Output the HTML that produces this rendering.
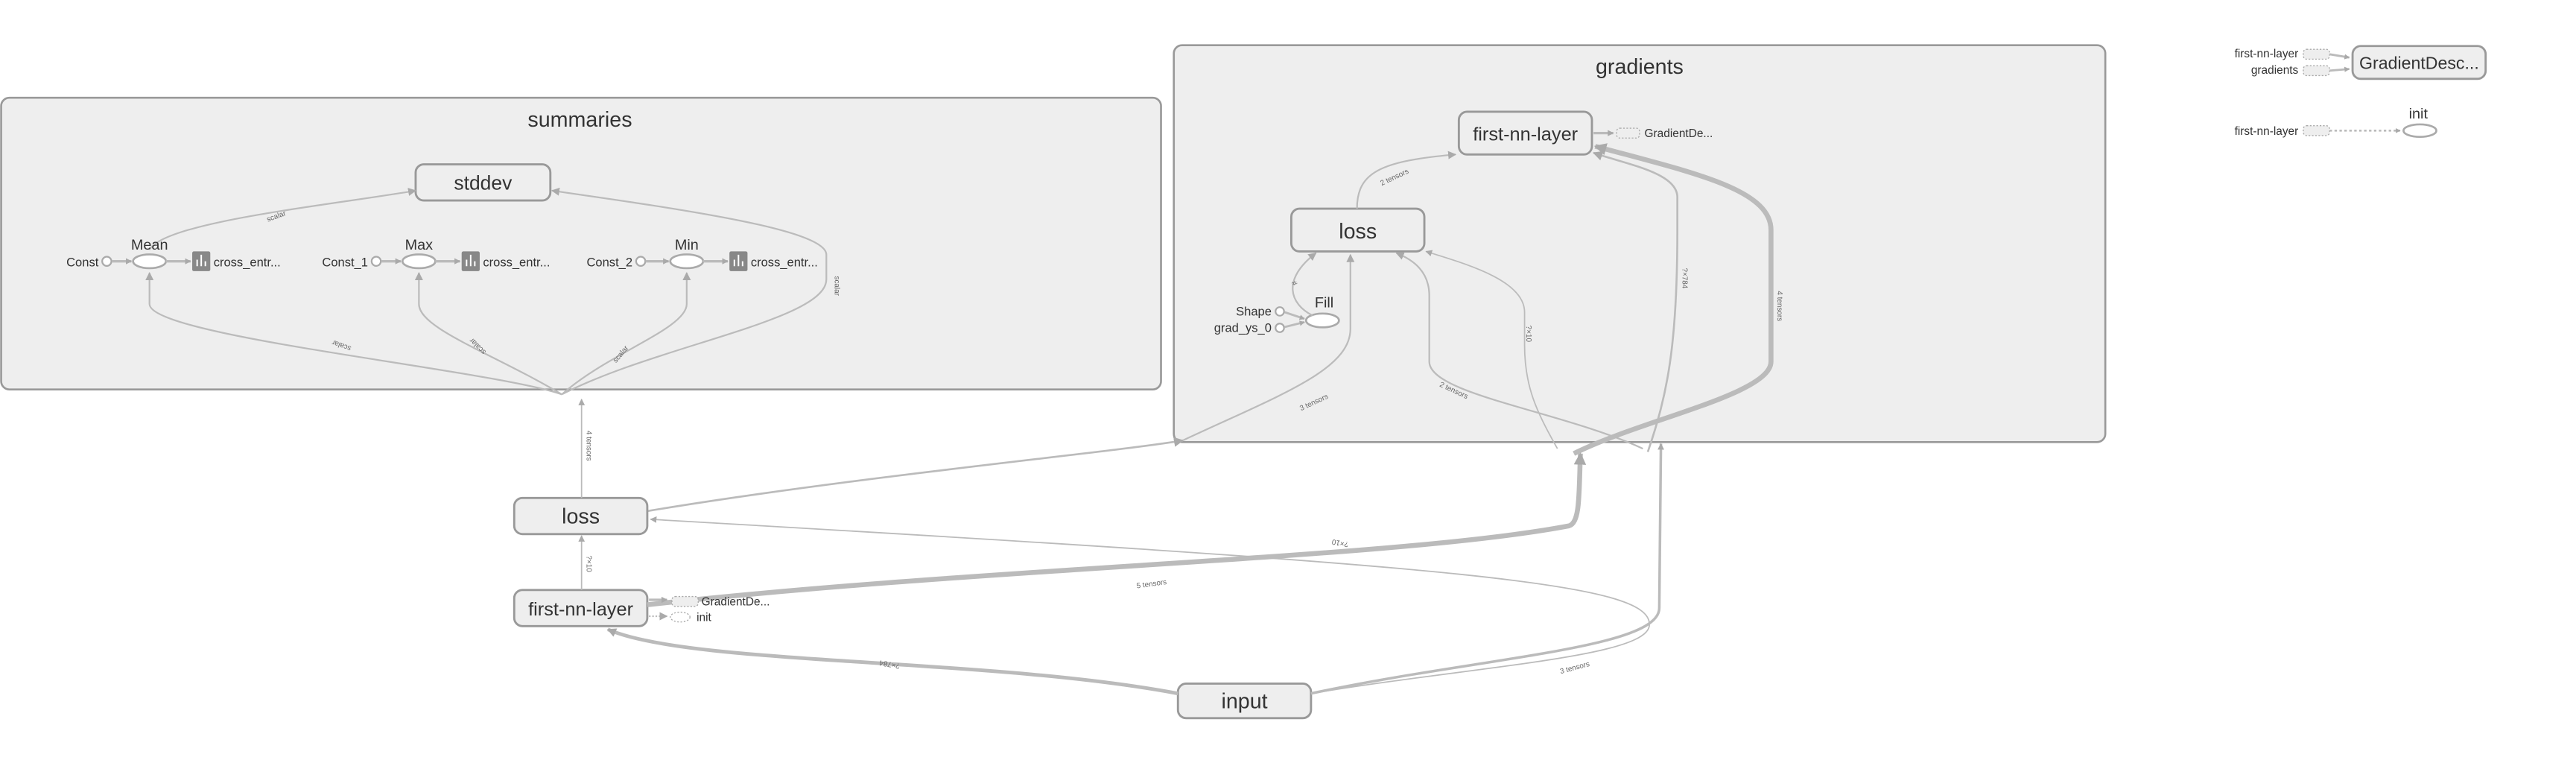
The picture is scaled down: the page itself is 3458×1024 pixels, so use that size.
<!DOCTYPE html>
<html><head><meta charset="utf-8"><style>
html,body{margin:0;padding:0;background:#fff;}
svg{display:block;}
text{font-family:"Liberation Sans",sans-serif;fill:#333;}
.e{fill:none;stroke:#bbb;}
.lbl{font-size:4.5px;fill:#666;}
.node{fill:#eee;stroke:#999;stroke-width:1.3;}
</style></head><body>
<svg width="3458" height="1024" viewBox="0 0 1568 464.3" preserveAspectRatio="none" xmlns="http://www.w3.org/2000/svg">
<defs>
<marker id="a" viewBox="0 0 10 10" refX="9" refY="5" markerWidth="5" markerHeight="5" orient="auto"><path d="M0,0 L10,5 L0,10 z" fill="#aaa"/></marker>
<marker id="as" viewBox="0 0 10 10" refX="9" refY="5" markerWidth="2.5" markerHeight="2.5" orient="auto"><path d="M0,0 L10,5 L0,10 z" fill="#aaa"/></marker>
</defs>
<!-- summaries -->
<rect x="0.7" y="59.5" width="706" height="177.5" rx="5" fill="#eee" stroke="#999" stroke-width="1.2"/>
<text x="353" y="77" font-size="13" text-anchor="middle">summaries</text>
<rect x="253" y="100" width="82" height="22" rx="5" class="node"/>
<text x="294" y="115.5" font-size="12" text-anchor="middle">stddev</text>
<path class="e" style="stroke-width:1" d="M342,240 C300,225 91,205 91,185 L91,166" marker-end="url(#a)"/>
<path class="e" style="stroke-width:1" d="M342,240 C300,215 255,200 255,185 L255,166" marker-end="url(#a)"/>
<path class="e" style="stroke-width:1" d="M342,240 C370,215 418,200 418,185 L418,166" marker-end="url(#a)"/>
<path class="e" style="stroke-width:1" d="M342,240 C400,210 503,195 503,170 L503,155 C503,140 420,128 336,116" marker-end="url(#a)"/>
<path class="e" style="stroke-width:1" d="M91,152 C100,135 200,125 253,116" marker-end="url(#a)"/>
<text class="lbl" transform="translate(163,135) rotate(-20)">scalar</text>
<text class="lbl" transform="translate(508,168) rotate(90)">scalar</text>
<text class="lbl" transform="translate(214,211) rotate(200)">scalar</text>
<text class="lbl" transform="translate(296,214) rotate(225)">scalar</text>
<text class="lbl" transform="translate(375,221) rotate(-50)">scalar</text>
<g>
<text x="60" y="162" font-size="7.5" text-anchor="end">Const</text>
<circle cx="65" cy="159" r="2.8" fill="#fff" stroke="#aaa"/>
<path class="e" style="stroke-width:1.5" d="M68,159 L80,159" marker-end="url(#as)"/>
<ellipse cx="91" cy="159" rx="10" ry="4.2" fill="#fff" stroke="#aaa" stroke-width="1.2"/>
<text x="91" y="152" font-size="9" text-anchor="middle">Mean</text>
<path class="e" style="stroke-width:1.5" d="M101,159 L116,159" marker-end="url(#as)"/>
<rect x="117" y="153" width="11" height="12" rx="1" fill="#888"/>
<path d="M120,162V158M122.5,162V155M125,162V159" stroke="#fff" stroke-width="0.9"/>
<text x="130" y="162" font-size="7.5">cross_entr...</text>
</g>
<g>
<text x="224" y="162" font-size="7.5" text-anchor="end">Const_1</text>
<circle cx="229" cy="159" r="2.8" fill="#fff" stroke="#aaa"/>
<path class="e" style="stroke-width:1.5" d="M232,159 L244,159" marker-end="url(#as)"/>
<ellipse cx="255" cy="159" rx="10" ry="4.2" fill="#fff" stroke="#aaa" stroke-width="1.2"/>
<text x="255" y="152" font-size="9" text-anchor="middle">Max</text>
<path class="e" style="stroke-width:1.5" d="M265,159 L280,159" marker-end="url(#as)"/>
<rect x="281" y="153" width="11" height="12" rx="1" fill="#888"/>
<path d="M284,162V158M286.5,162V155M289,162V159" stroke="#fff" stroke-width="0.9"/>
<text x="294" y="162" font-size="7.5">cross_entr...</text>
</g>
<g>
<text x="385" y="162" font-size="7.5" text-anchor="end">Const_2</text>
<circle cx="390" cy="159" r="2.8" fill="#fff" stroke="#aaa"/>
<path class="e" style="stroke-width:1.5" d="M393,159 L407,159" marker-end="url(#as)"/>
<ellipse cx="418" cy="159" rx="10" ry="4.2" fill="#fff" stroke="#aaa" stroke-width="1.2"/>
<text x="418" y="152" font-size="9" text-anchor="middle">Min</text>
<path class="e" style="stroke-width:1.5" d="M428,159 L443,159" marker-end="url(#as)"/>
<rect x="444" y="153" width="11" height="12" rx="1" fill="#888"/>
<path d="M447,162V158M449.5,162V155M452,162V159" stroke="#fff" stroke-width="0.9"/>
<text x="457" y="162" font-size="7.5">cross_entr...</text>
</g>

<!-- gradients -->
<rect x="714.5" y="27.5" width="567" height="241.5" rx="5" fill="#eee" stroke="#999" stroke-width="1.2"/>
<text x="998" y="45" font-size="13" text-anchor="middle">gradients</text>
<rect x="888" y="68" width="81" height="26" rx="5" class="node"/>
<text x="928.5" y="85.5" font-size="11.5" text-anchor="middle">first-nn-layer</text>
<path class="e" style="stroke-width:1.5" d="M970,81 L982,81" marker-end="url(#as)"/>
<rect x="984" y="78" width="14" height="6" rx="2" fill="#eee" stroke="#aaa" stroke-width="0.6" stroke-dasharray="1,1"/>
<text x="1001" y="83.5" font-size="7">GradientDe...</text>
<rect x="786" y="127" width="81" height="26" rx="5" class="node"/>
<text x="826.5" y="145" font-size="13" text-anchor="middle">loss</text>
<path class="e" style="stroke-width:1" d="M826,127 C826,105 840,98 886,94" marker-end="url(#a)"/>
<text class="lbl" transform="translate(841,113) rotate(-25)">2 tensors</text>
<text x="774" y="192" font-size="7.5" text-anchor="end">Shape</text>
<circle cx="779" cy="189.5" r="2.6" fill="#fff" stroke="#aaa"/>
<text x="774" y="202" font-size="7.5" text-anchor="end">grad_ys_0</text>
<circle cx="779" cy="199.5" r="2.6" fill="#fff" stroke="#aaa"/>
<path class="e" style="stroke-width:1.3" d="M782,190 L794,194" marker-end="url(#as)"/>
<path class="e" style="stroke-width:1.3" d="M782,199 L794,196" marker-end="url(#as)"/>
<ellipse cx="805" cy="195" rx="10" ry="4.2" fill="#fff" stroke="#aaa" stroke-width="1.2"/>
<text x="806" y="187" font-size="9" text-anchor="middle">Fill</text>
<path class="e" style="stroke-width:1" d="M799,192 C785,185 780,170 801,154" marker-end="url(#a)"/>
<text class="lbl" transform="translate(786,172) rotate(60)">#</text>
<!-- edges in gradients -->
<path class="e" style="stroke-width:1.2" d="M394,311 C520,290 680,275 720,268" marker-end="url(#a)"/>
<path class="e" style="stroke-width:1" d="M720,268 C780,240 822,225 822,200 L822,155" marker-end="url(#a)"/>
<text class="lbl" transform="translate(792,250) rotate(-25)">3 tensors</text>
<path class="e" style="stroke-width:1" d="M1000,273 C950,250 870,240 870,220 L870,180 C870,165 860,158 850,154" marker-end="url(#a)"/>
<text class="lbl" transform="translate(876,235) rotate(25)">2 tensors</text>
<path class="e" style="stroke-width:0.8" d="M948,273 C935,250 928,235 928,210 L928,190 C928,170 890,160 868,153" marker-end="url(#a)"/>
<text class="lbl" transform="translate(929,198) rotate(90)">?×10</text>
<path class="e" style="stroke-width:1.2" d="M1003,275 C1015,240 1021,210 1021,140 L1021,120 C1021,105 990,100 970,93" marker-end="url(#a)"/>
<text class="lbl" transform="translate(1024,163) rotate(90)">?×784</text>
<path class="e" style="stroke-width:3" d="M958,276 C1000,255 1078,240 1078,220 L1078,140 C1078,115 1030,105 971,89" marker-end="url(#as)"/>
<text class="lbl" transform="translate(1082,177) rotate(90)">4 tensors</text>

<!-- outer -->
<rect x="313" y="303" width="81" height="22" rx="5" class="node"/>
<text x="353.5" y="318.5" font-size="13" text-anchor="middle">loss</text>
<rect x="313" y="359" width="81" height="22" rx="5" class="node"/>
<text x="353.5" y="374.5" font-size="11.5" text-anchor="middle">first-nn-layer</text>
<rect x="717" y="416" width="81" height="21" rx="5" class="node"/>
<text x="757.5" y="431" font-size="13" text-anchor="middle">input</text>
<path class="e" style="stroke-width:0.8" d="M354,303 L354,243" marker-end="url(#a)"/>
<text class="lbl" transform="translate(357,262) rotate(90)">4 tensors</text>
<path class="e" style="stroke-width:0.8" d="M354,359 L354,326" marker-end="url(#a)"/>
<text class="lbl" transform="translate(357,338) rotate(90)">?×10</text>
<path class="e" style="stroke-width:2.2" d="M717,422 C600,400 420,405 370,383" marker-end="url(#as)"/>
<text class="lbl" transform="translate(548,404) rotate(190)">?×784</text>
<path class="e" style="stroke-width:1.6" d="M798,422 C900,400 1010,395 1010,370 L1011,270" marker-end="url(#as)"/>
<text class="lbl" transform="translate(950,410) rotate(-15)">3 tensors</text>
<path class="e" style="stroke-width:0.8" d="M798,422 C900,405 1004,400 1004,380 C1004,355 900,345 396,316" marker-end="url(#a)"/>
<text class="lbl" transform="translate(821,330) rotate(190)">?×10</text>
<path class="e" style="stroke-width:3" d="M394,368 C600,345 850,340 955,320 C962,318 961,300 962,276" marker-end="url(#as)"/>
<text class="lbl" transform="translate(692,358) rotate(-8)">5 tensors</text>
<path class="e" style="stroke-width:1.5" d="M395,365 L406,365" marker-end="url(#as)"/>
<rect x="409" y="363" width="16" height="6" rx="2" fill="#eee" stroke="#aaa" stroke-width="0.6" stroke-dasharray="1,1"/>
<text x="427" y="368.5" font-size="7">GradientDe...</text>
<path class="e" style="stroke-width:1" d="M395,375 L406,375" stroke-dasharray="1,1" marker-end="url(#a)"/>
<ellipse cx="414" cy="375.5" rx="6" ry="3" fill="#fff" stroke="#aaa" stroke-width="0.6" stroke-dasharray="1,1"/>
<text x="424" y="378" font-size="7">init</text>

<!-- right -->
<text x="1399" y="35" font-size="7" text-anchor="end">first-nn-layer</text>
<rect x="1402" y="30" width="16" height="6" rx="2" fill="#eee" stroke="#aaa" stroke-width="0.6" stroke-dasharray="1,1"/>
<text x="1399" y="45" font-size="7" text-anchor="end">gradients</text>
<rect x="1402" y="40" width="16" height="6" rx="2" fill="#eee" stroke="#aaa" stroke-width="0.6" stroke-dasharray="1,1"/>
<path class="e" style="stroke-width:1.3" d="M1418,33 L1430,35" marker-end="url(#as)"/>
<path class="e" style="stroke-width:1.3" d="M1418,43 L1430,42" marker-end="url(#as)"/>
<rect x="1432" y="28" width="81" height="20" rx="5" class="node"/>
<text x="1472.5" y="42" font-size="10.5" text-anchor="middle">GradientDesc...</text>
<text x="1472" y="72" font-size="9" text-anchor="middle">init</text>
<text x="1399" y="82" font-size="7" text-anchor="end">first-nn-layer</text>
<rect x="1402" y="76.5" width="16" height="6" rx="2" fill="#eee" stroke="#aaa" stroke-width="0.6" stroke-dasharray="1,1"/>
<path class="e" style="stroke-width:1.2" d="M1418,79.5 L1461,79.5" stroke-dasharray="1.5,1.5" marker-end="url(#as)"/>
<ellipse cx="1473" cy="79.5" rx="10" ry="3.8" fill="#fff" stroke="#aaa" stroke-width="1.2"/>
</svg>
</body></html>
